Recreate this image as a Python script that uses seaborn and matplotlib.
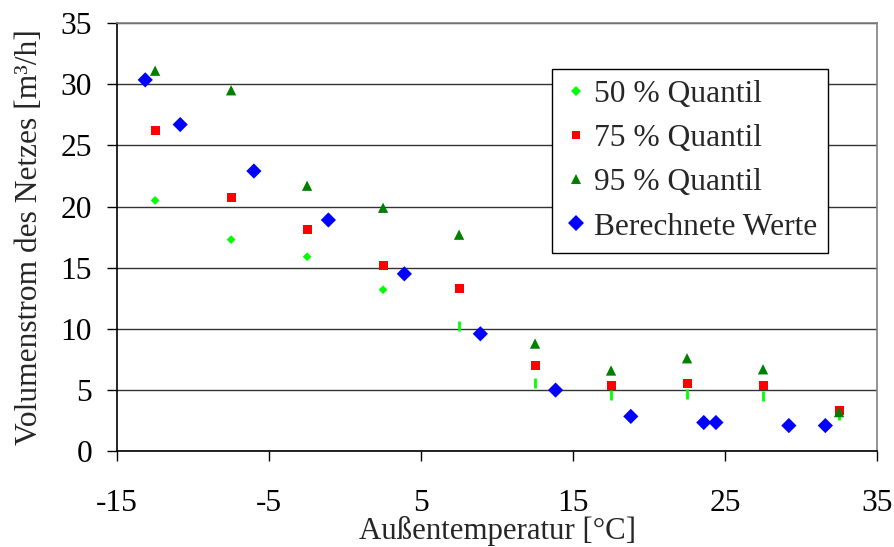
import matplotlib
matplotlib.use("Agg")
import matplotlib.pyplot as plt
import seaborn as sns
import pandas as pd
from matplotlib.lines import Line2D

# ---- data ----
quant_x = [-12.5, -7.5, -2.5, 2.5, 7.5, 12.5, 17.5, 22.5, 27.5, 32.5]
q50 = [20.5, 17.3, 15.9, 13.2, 10.2, 5.6, 4.6, 4.7, 4.5, 3.0]
q75 = [26.2, 20.7, 18.1, 15.2, 13.3, 7.0, 5.4, 5.5, 5.4, 3.3]
q95 = [31.1, 29.5, 21.7, 19.9, 17.7, 8.8, 6.6, 7.6, 6.7, 3.2]
calc_x = [-13.15, -10.85, -6.0, -1.1, 3.9, 8.9, 13.85, 18.8, 23.6, 24.4, 29.2, 31.6]
calc_y = [30.35, 26.7, 22.9, 18.9, 14.5, 9.6, 5.0, 2.85, 2.35, 2.35, 2.1, 2.1]

labels = ["50 % Quantil", "75 % Quantil", "95 % Quantil", "Berechnete Werte"]
xticks = [-15, -5, 5, 15, 25, 35]
yticks = [0, 5, 10, 15, 20, 25, 30, 35]

sns.set_style("white")
plt.rcParams["font.family"] = ["Liberation Serif", "DejaVu Serif"]

FS = 22.7

fig = plt.figure(figsize=(8.94, 5.47), dpi=100)
ax = fig.add_axes([0.131, 0.175, 0.850, 0.783])

df50 = pd.DataFrame({"x": quant_x, "y": q50})
df75 = pd.DataFrame({"x": quant_x, "y": q75})
df95 = pd.DataFrame({"x": quant_x, "y": q95})
dfc = pd.DataFrame({"x": calc_x, "y": calc_y})

c50, c75, c95, cc = "#00FF00", "#FF0000", "#008000", "#0000FF"

# 50 % quantile: first points as small diamonds, later ones render as vertical dashes
sns.scatterplot(data=df50.iloc[:4], x="x", y="y", marker="D", s=20, color=c50,
                edgecolor="none", ax=ax, zorder=3)
sns.scatterplot(data=df50.iloc[4:], x="x", y="y", marker="|", s=60, color=c50,
                linewidth=2, ax=ax, zorder=3)
sns.scatterplot(data=df75, x="x", y="y", marker="s", s=42, color=c75,
                edgecolor="none", ax=ax, zorder=4)
sns.scatterplot(data=df95, x="x", y="y", marker="^", s=55, color=c95,
                edgecolor="none", ax=ax, zorder=5)
sns.scatterplot(data=dfc, x="x", y="y", marker="D", s=60, color=cc,
                edgecolor="none", ax=ax, zorder=6)

ax.set_xlim(-15, 35)
ax.set_ylim(0, 35)
ax.set_xticks(xticks)
ax.set_yticks(yticks)
ax.set_xticklabels([str(t) for t in xticks])
ax.set_yticklabels([str(t) for t in yticks])
ax.tick_params(axis="both", labelsize=FS, colors="black", direction="out",
               length=7, width=1)
ax.tick_params(axis="x", pad=20)
ax.tick_params(axis="y", pad=11)
ax.xaxis.set_ticks_position("bottom")
ax.yaxis.set_ticks_position("left")

ax.yaxis.grid(True, color="#333333", linewidth=1.0)
ax.xaxis.grid(False)
ax.set_axisbelow(True)

for side in ["left", "bottom"]:
    ax.spines[side].set_color("black")
    ax.spines[side].set_linewidth(1.2)
for side in ["right", "top"]:
    ax.spines[side].set_color("#808080")
    ax.spines[side].set_linewidth(1.2)

ax.set_xlabel("Außentemperatur [°C]", fontsize=22.2, labelpad=-1)
ax.set_ylabel("Volumenstrom des Netzes [m³/h]", fontsize=FS, labelpad=12)

handles = [
    Line2D([], [], linestyle="none", marker="D", markersize=5, color=c50, markeredgewidth=0),
    Line2D([], [], linestyle="none", marker="s", markersize=6, color=c75, markeredgewidth=0),
    Line2D([], [], linestyle="none", marker="^", markersize=6.5, color=c95, markeredgewidth=0),
    Line2D([], [], linestyle="none", marker="D", markersize=8, color=cc, markeredgewidth=0),
]
leg = ax.legend(handles, labels, loc="upper right", bbox_to_anchor=(0.936, 0.893),
                fontsize=FS, frameon=True, fancybox=False, framealpha=1,
                edgecolor="black", handlelength=0.8, handletextpad=0.18,
                labelspacing=0.48, borderpad=0.35, borderaxespad=0)
leg.get_frame().set_linewidth(1.0)

fig.savefig("out.png", dpi=100)
